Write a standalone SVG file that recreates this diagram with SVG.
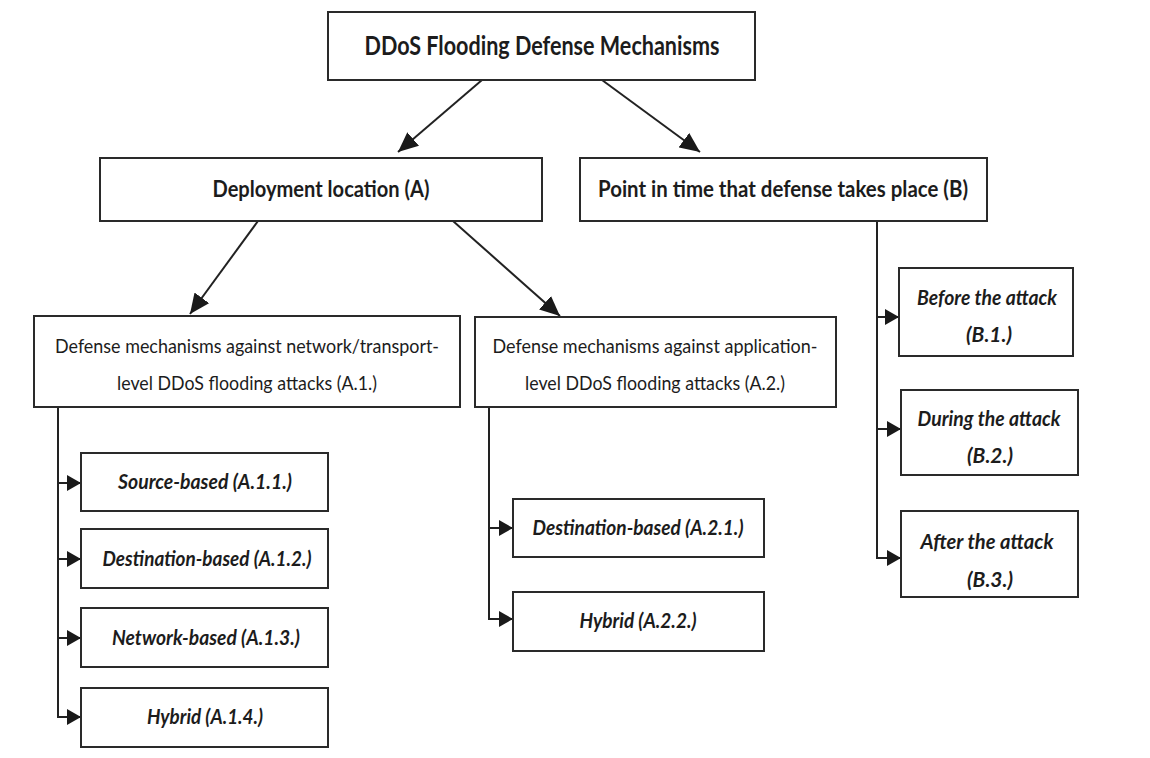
<svg xmlns="http://www.w3.org/2000/svg" width="1150" height="758" viewBox="0 0 1150 758">
<style>
.box{fill:#fff;stroke:#2a2a2a;stroke-width:2}
.ln{fill:none;stroke:#222;stroke-width:2}
text{font-family:Lato,"Open Sans","Liberation Sans",sans-serif;fill:#1c1c1c;text-anchor:middle}
.t0{font-size:26px;font-weight:bold}
.t1{font-size:22px;font-weight:bold}
.t2{font-size:20px}
.t3{font-size:20px;font-weight:bold;font-style:italic}
</style>
<defs>
<marker id="ah" markerUnits="userSpaceOnUse" markerWidth="21" markerHeight="18" refX="20" refY="9" orient="auto">
<path d="M0,0 L20,9 L0,18 Z" fill="#1a1a1a"/>
</marker>
<marker id="as" markerUnits="userSpaceOnUse" markerWidth="15" markerHeight="16" refX="14" refY="8" orient="auto">
<path d="M0,0 L14,8 L0,16 Z" fill="#1a1a1a"/>
</marker>
</defs>
<rect width="1150" height="758" fill="#fff"/>
<g id="connectors">
<line class="ln" x1="482" y1="80" x2="398" y2="152" marker-end="url(#ah)"/>
<line class="ln" x1="602" y1="80" x2="700" y2="152" marker-end="url(#ah)"/>
<line class="ln" x1="258" y1="221" x2="190" y2="314" marker-end="url(#ah)"/>
<line class="ln" x1="453" y1="221" x2="560" y2="316" marker-end="url(#ah)"/>
<path class="ln" d="M58,407 V717"/>
<line class="ln" x1="57" y1="483" x2="81" y2="483" marker-end="url(#as)"/>
<line class="ln" x1="57" y1="559" x2="81" y2="559" marker-end="url(#as)"/>
<line class="ln" x1="57" y1="638" x2="81" y2="638" marker-end="url(#as)"/>
<line class="ln" x1="57" y1="717" x2="81" y2="717" marker-end="url(#as)"/>
<path class="ln" d="M489,407 V619"/>
<line class="ln" x1="488" y1="528" x2="513" y2="528" marker-end="url(#as)"/>
<line class="ln" x1="488" y1="619" x2="513" y2="619" marker-end="url(#as)"/>
<path class="ln" d="M877,221 V558"/>
<line class="ln" x1="876" y1="317" x2="899" y2="317" marker-end="url(#as)"/>
<line class="ln" x1="876" y1="429" x2="901" y2="429" marker-end="url(#as)"/>
<line class="ln" x1="876" y1="558" x2="901" y2="558" marker-end="url(#as)"/>
</g>
<g id="root">
<rect class="box" x="328" y="12" width="427" height="68"/>
<text class="t0" x="542" y="55" textLength="355" lengthAdjust="spacingAndGlyphs">DDoS Flooding Defense Mechanisms</text>
</g>
<g id="A">
<rect class="box" x="100" y="158" width="442" height="63"/>
<text class="t1" x="321" y="197" textLength="217" lengthAdjust="spacingAndGlyphs">Deployment location (A)</text>
</g>
<g id="B">
<rect class="box" x="580" y="158" width="407" height="63"/>
<text class="t1" x="783" y="197" textLength="370" lengthAdjust="spacingAndGlyphs">Point in time that defense takes place (B)</text>
</g>
<g id="A1">
<rect class="box" x="34" y="316" width="426" height="91"/>
<text class="t2" x="247" y="353" textLength="384" lengthAdjust="spacingAndGlyphs">Defense mechanisms against network/transport-</text>
<text class="t2" x="247" y="390" textLength="260" lengthAdjust="spacingAndGlyphs">level DDoS flooding attacks (A.1.)</text>
</g>
<g id="A2">
<rect class="box" x="475" y="317" width="361" height="90"/>
<text class="t2" x="655" y="353" textLength="325" lengthAdjust="spacingAndGlyphs">Defense mechanisms against application-</text>
<text class="t2" x="655" y="390" textLength="260" lengthAdjust="spacingAndGlyphs">level DDoS flooding attacks (A.2.)</text>
</g>
<g id="A11">
<rect class="box" x="81" y="453" width="247" height="58"/>
<text class="t3" x="205" y="489" textLength="174" lengthAdjust="spacingAndGlyphs">Source-based (A.1.1.)</text>
</g>
<g id="A12">
<rect class="box" x="81" y="529" width="247" height="59"/>
<text class="t3" x="207" y="566" textLength="209" lengthAdjust="spacingAndGlyphs">Destination-based (A.1.2.)</text>
</g>
<g id="A13">
<rect class="box" x="81" y="608" width="247" height="59"/>
<text class="t3" x="206" y="645" textLength="188" lengthAdjust="spacingAndGlyphs">Network-based (A.1.3.)</text>
</g>
<g id="A14">
<rect class="box" x="81" y="688" width="247" height="59"/>
<text class="t3" x="205" y="724" textLength="116" lengthAdjust="spacingAndGlyphs">Hybrid (A.1.4.)</text>
</g>
<g id="A21">
<rect class="box" x="513" y="499" width="251" height="58"/>
<text class="t3" x="638" y="535" textLength="211" lengthAdjust="spacingAndGlyphs">Destination-based (A.2.1.)</text>
</g>
<g id="A22">
<rect class="box" x="513" y="592" width="251" height="59"/>
<text class="t3" x="638" y="628" textLength="117" lengthAdjust="spacingAndGlyphs">Hybrid (A.2.2.)</text>
</g>
<g id="B1">
<rect class="box" x="899" y="268" width="174" height="88"/>
<text class="t3" x="987" y="305" textLength="140" lengthAdjust="spacingAndGlyphs">Before the attack</text>
<text class="t3" x="989" y="342" textLength="46" lengthAdjust="spacingAndGlyphs">(B.1.)</text>
</g>
<g id="B2">
<rect class="box" x="901" y="390" width="177" height="85"/>
<text class="t3" x="989" y="426" textLength="143" lengthAdjust="spacingAndGlyphs">During the attack</text>
<text class="t3" x="990" y="463" textLength="46" lengthAdjust="spacingAndGlyphs">(B.2.)</text>
</g>
<g id="B3">
<rect class="box" x="901" y="511" width="177" height="86"/>
<text class="t3" x="987" y="549" textLength="133" lengthAdjust="spacingAndGlyphs">After the attack</text>
<text class="t3" x="990" y="587" textLength="46" lengthAdjust="spacingAndGlyphs">(B.3.)</text>
</g>
</svg>
